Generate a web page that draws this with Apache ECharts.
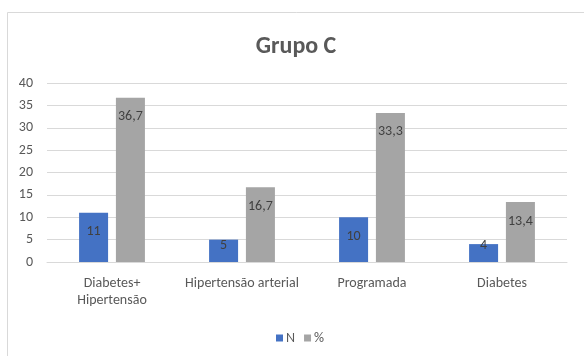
<!DOCTYPE html>
<html>
<head>
<meta charset="utf-8">
<script src="https://cdn.jsdelivr.net/npm/echarts@6/dist/echarts.min.js"></script>
<style>
  html, body { margin: 0; padding: 0; background: #fff; }
  #chart { width: 584px; height: 356px; }
</style>
</head>
<body>
<div id="chart"></div>
<script>
// Grupo C: counts (N) and percentages (%) per category
const categories = ['Diabetes+\nHipertensão', 'Hipertensão arterial', 'Programada', 'Diabetes'];
const valuesN = [11, 5, 10, 4];
const valuesPct = [36.7, 16.7, 33.3, 13.4];
const pctLabels = ['36,7', '16,7', '33,3', '13,4'];
const yTicks = [0, 5, 10, 15, 20, 25, 30, 35, 40];

const FONT = 'Carlito, Lato, sans-serif';
const gridTop = 83, gridBottom = 94;
const plotHeight = 356 - gridTop - gridBottom;
const yMax = yTicks[yTicks.length - 1];
const pxPerUnit = plotHeight / yMax;

// value labels sit ~19px below the bar top, but never drop below the axis
function labelFor(v, text) {
  const h = v * pxPerUnit;
  const dy = Math.min(19, h - 17);
  return {
    value: v,
    label: { position: ['50%', dy], align: 'center', verticalAlign: 'middle', formatter: text }
  };
}

const chart = echarts.init(document.getElementById('chart'));
chart.setOption({
  animation: false,
  backgroundColor: '#fff',
  graphic: [{
    type: 'rect',
    shape: { x: 7.5, y: 12.5, width: 600, height: 400 },
    style: { fill: 'none', stroke: '#d9d9d9', lineWidth: 1 },
    silent: true
  }],
  title: {
    text: 'Grupo C',
    left: 291, top: 30, textAlign: 'center',
    textStyle: { fontFamily: FONT, fontSize: 24, fontWeight: 'bold', color: '#595959' }
  },
  legend: {
    data: ['N', '%'],
    left: 271, top: 326,
    itemWidth: 7, itemHeight: 7, itemGap: 9,
    icon: 'rect',
    textStyle: { fontFamily: FONT, fontSize: 14, color: '#595959', padding: [0, 0, 0, -2] }
  },
  grid: { left: 47, right: 17, top: gridTop, bottom: gridBottom },
  xAxis: {
    type: 'category',
    data: categories,
    axisLine: { lineStyle: { color: '#d9d9d9' } },
    axisTick: { show: false },
    axisLabel: { fontFamily: FONT, fontSize: 14, color: '#595959', margin: 13, lineHeight: 17, interval: 0 }
  },
  yAxis: {
    type: 'value',
    min: 0, max: yMax, interval: 5,
    axisLine: { show: false },
    axisTick: { show: false },
    splitLine: { lineStyle: { color: '#d9d9d9' } },
    axisLabel: { fontFamily: FONT, fontSize: 14, color: '#595959', margin: 14 }
  },
  series: [
    {
      name: 'N', type: 'bar',
      barWidth: 29, barGap: '27%',
      itemStyle: { color: '#4472c4' },
      label: { show: true, fontFamily: FONT, fontSize: 14, color: '#404040' },
      data: valuesN.map(v => labelFor(v, String(v)))
    },
    {
      name: '%', type: 'bar',
      barWidth: 29, barGap: '27%',
      itemStyle: { color: '#a5a5a5' },
      label: { show: true, fontFamily: FONT, fontSize: 14, color: '#404040' },
      data: valuesPct.map((v, i) => labelFor(v, pctLabels[i]))
    }
  ]
});
</script>
</body>
</html>
